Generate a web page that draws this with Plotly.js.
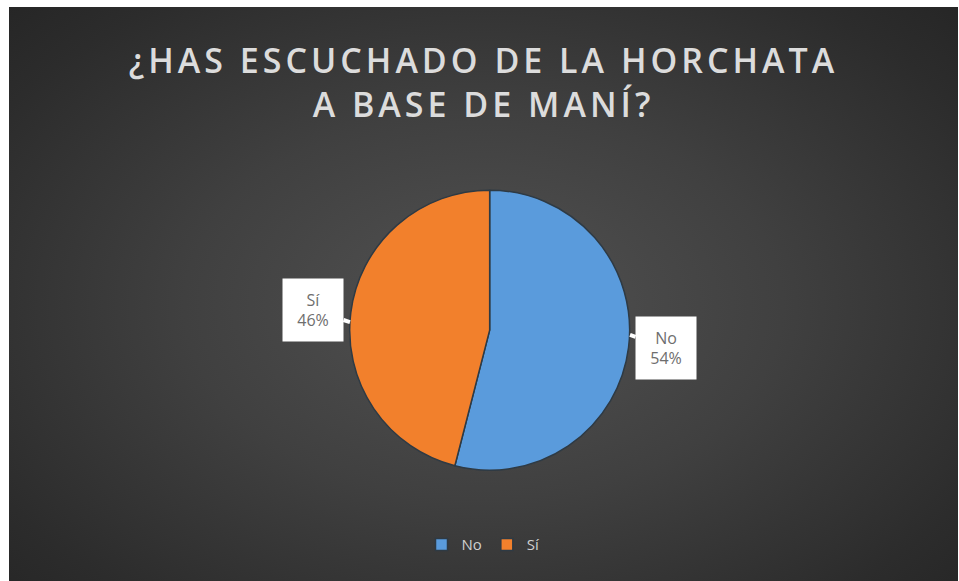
<!DOCTYPE html>
<html>
<head>
<meta charset="utf-8">
<script src="https://cdn.plot.ly/plotly-3.0.1.min.js"></script>
<style>
  html, body { margin: 0; padding: 0; background: #ffffff; }
  #frame {
    position: absolute; left: 9px; top: 7px; width: 949px; height: 574px;
    background: radial-gradient(ellipse 70% 75% at 50% 52%, #525252 0%, #404040 45%, #2c2c2c 85%, #262626 100%);
  }
  #chart { width: 949px; height: 574px; }
  .gtitle { letter-spacing: 4px; }
</style>
</head>
<body>
<div id="frame"><div id="chart"></div></div>
<script>
const categories = ["No", "Sí"];
const values = [54, 46];
const colors = ["#5a9bdc", "#f2802c"];
const titleText = "¿HAS ESCUCHADO DE LA HORCHATA<br>A BASE DE MANÍ?";

const total = values.reduce((a, b) => a + b, 0);
const pct = values.map(v => Math.round(v / total * 100) + "%");

const trace = {
  type: "pie",
  labels: categories,
  values: values,
  sort: false,
  direction: "clockwise",
  rotation: 0,
  textinfo: "none",
  hoverinfo: "label+percent",
  marker: { colors: colors, line: { color: "#2e3a44", width: 1.5 } },
  domain: { x: [0.359, 0.654], y: [0.193, 0.681] }
};

// callout boxes: arrow tip at the slice edge, box offset beside it
const labelPos = [
  { x: 0.6544, y: 0.4286, ax: 36, ay: 13 },
  { x: 0.3593, y: 0.451, ax: -37, ay: -12 }
];
const annotations = categories.map((c, i) => ({
  xref: "paper", yref: "paper",
  x: labelPos[i].x, y: labelPos[i].y,
  ax: labelPos[i].ax, ay: labelPos[i].ay,
  text: c + "<br>" + pct[i],
  showarrow: true,
  arrowhead: 0,
  arrowwidth: 4,
  arrowcolor: "#ffffff",
  standoff: 0,
  bgcolor: "#ffffff",
  width: 44,
  height: 46,
  borderpad: 8,
  font: { family: "Open Sans, Noto Sans, sans-serif", size: 16, color: "#6e6e6e" },
  align: "center",
  valign: "middle"
}));

const layout = {
  width: 949, height: 574,
  margin: { l: 0, r: 0, t: 0, b: 0 },
  paper_bgcolor: "rgba(0,0,0,0)",
  plot_bgcolor: "rgba(0,0,0,0)",
  title: {
    text: titleText,
    x: 0.5, xanchor: "center",
    y: 0.885, yanchor: "middle",
    font: { family: "Open Sans, Noto Sans, sans-serif", size: 34, color: "#dcdcdc", weight: 600 }
  },
  showlegend: true,
  legend: {
    orientation: "h",
    x: 0.5, xanchor: "center",
    y: 0.063, yanchor: "middle",
    font: { family: "Open Sans, Noto Sans, sans-serif", size: 15, color: "#d0d0d0" },
    itemwidth: 30
  },
  annotations: annotations
};

Plotly.newPlot("chart", [trace], layout, { displayModeBar: false, staticPlot: true });
</script>
</body>
</html>
